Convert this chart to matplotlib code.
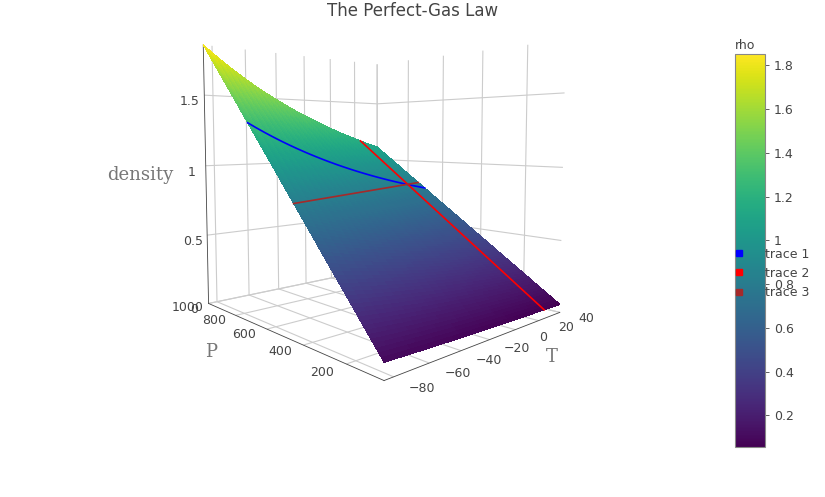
import numpy as np
import matplotlib
matplotlib.use("Agg")
import matplotlib.pyplot as plt
from matplotlib.lines import Line2D
from matplotlib.ticker import FuncFormatter, NullFormatter
from mpl_toolkits.mplot3d import proj3d

# surface grid: pressure (hPa) and temperature (degC)
P_MIN, P_MAX = 50, 1000
T_MIN, T_MAX = -85, 40
R_DRY = 287.05

# the three traces drawn on the surface
P_TRACE1 = 700      # constant pressure (blue)
T_TRACE2 = 25       # constant temperature (red)
RHO_TRACE3 = 0.82   # constant density (brown)

T_TICKS = [-80, -60, -40, -20, 0, 20, 40]
P_TICKS = [200, 400, 600, 800, 1000]
Z_TICKS = [0, 0.5, 1, 1.5]
CB_TICKS = [0.2, 0.4, 0.6, 0.8, 1.0, 1.2, 1.4, 1.6, 1.8]


def density(p, t):
    return np.asarray(p) * 100.0 / (R_DRY * (np.asarray(t) + 273.15))


P = np.arange(P_MIN, P_MAX + 1, 10.0)
T = np.arange(T_MIN, T_MAX + 1, 5.0)
TT, PP = np.meshgrid(T, P)
RHO = density(PP, TT)

fig = plt.figure(figsize=(8.25, 4.97), dpi=100)
ax = fig.add_axes([0.012, 0.13, 0.88, 1.0], projection="3d",
                  computed_zorder=False)
ax.set_proj_type("persp", focal_length=0.22)

norm = plt.Normalize(RHO.min(), RHO.max())
surf = ax.plot_surface(TT, PP, RHO, cmap="viridis", norm=norm,
                       rstride=1, cstride=1, linewidth=0,
                       antialiased=False, shade=False, zorder=1)

# trace 1: constant P
ax.plot(T, np.full_like(T, P_TRACE1), density(P_TRACE1, T),
        color="blue", lw=1.2, zorder=5)
# trace 2: constant T
ax.plot(np.full_like(P, T_TRACE2), P, density(P, T_TRACE2),
        color="red", lw=1.2, zorder=5)
# trace 3: constant density
p3 = RHO_TRACE3 * R_DRY * (T + 273.15) / 100.0
ax.plot(T, p3, np.full_like(T, RHO_TRACE3),
        color="brown", lw=1.2, zorder=5)

ax.set_xlim(T_MIN, T_MAX)
ax.set_ylim(P_MIN, P_MAX)
ax.set_zlim(0, RHO.max())
ax.set_box_aspect((0.9, 1, 1), zoom=0.871)
ax.view_init(elev=4, azim=-133)

ax.set_xticks(T_TICKS)
ax.set_yticks(P_TICKS)
ax.set_zticks(Z_TICKS)
ax.xaxis.set_major_formatter(NullFormatter())
ax.yaxis.set_major_formatter(NullFormatter())
ax.zaxis.set_major_formatter(FuncFormatter(lambda v, _: f"{v:g}"))

for axis in (ax.xaxis, ax.yaxis, ax.zaxis):
    axis.set_pane_color((1, 1, 1, 0))
    axis.line.set_color("#444444")
    axis.line.set_linewidth(0.6)
    axis._axinfo["grid"]["color"] = "#cccccc"
    axis._axinfo["grid"]["linewidth"] = 0.8
    axis._axinfo["tick"]["inward_factor"] = 0
    axis._axinfo["tick"]["outward_factor"] = 0
ax.tick_params(labelsize=9, colors="#444444", pad=0)

fig.suptitle("The Perfect-Gas Law", y=0.995, fontsize=12, color="#444444")

cax = fig.add_axes([0.891, 0.101, 0.036, 0.79])
cb = fig.colorbar(surf, cax=cax, ticks=CB_TICKS)
cb.outline.set_edgecolor("#888888")
cb.ax.tick_params(labelsize=9, colors="#444444", length=3, width=0.6)
cb.ax.yaxis.set_major_formatter(FuncFormatter(lambda v, _: f"{v:g}"))
cax.set_title("rho", fontsize=9, color="#444444", loc="left", pad=4)

handles = [Line2D([], [], ls="none", marker="s", ms=5, color=c)
           for c in ("blue", "red", "brown")]
fig.legend(handles, ["trace 1", "trace 2", "trace 3"],
           loc="center left", bbox_to_anchor=(0.874, 0.45),
           frameon=False, fontsize=9, handlelength=1.0, handletextpad=1.6,
           labelspacing=0.5, labelcolor="#444444")

# floor tick labels: project 3D spots just outside the floor edges
fig.canvas.draw()


def floor_label(x, y, z, s):
    px, py, _ = proj3d.proj_transform(x, y, z, ax.M)
    disp = ax.transData.transform((px, py))
    fx, fy = fig.transFigure.inverted().transform(disp)
    fig.text(fx, fy, s, fontsize=9, color="#444444",
             ha="center", va="center")


for t in T_TICKS:
    floor_label(t, P_MIN - 100, 0, f"{t:g}".replace("-", "\u2212"))
for p in P_TICKS:
    floor_label(T_MIN - 12, p, 0, f"{p:g}")

label_font = dict(family="DejaVu Serif", fontsize=13, color="#777777",
                  ha="center", va="center")
fig.text(140 / 825, 1 - 175 / 497, "density", **label_font)
fig.text(211 / 825, 1 - 352 / 497, "P", **label_font)
fig.text(552 / 825, 1 - 357 / 497, "T", **label_font)

fig.savefig("out.png", dpi=100)
